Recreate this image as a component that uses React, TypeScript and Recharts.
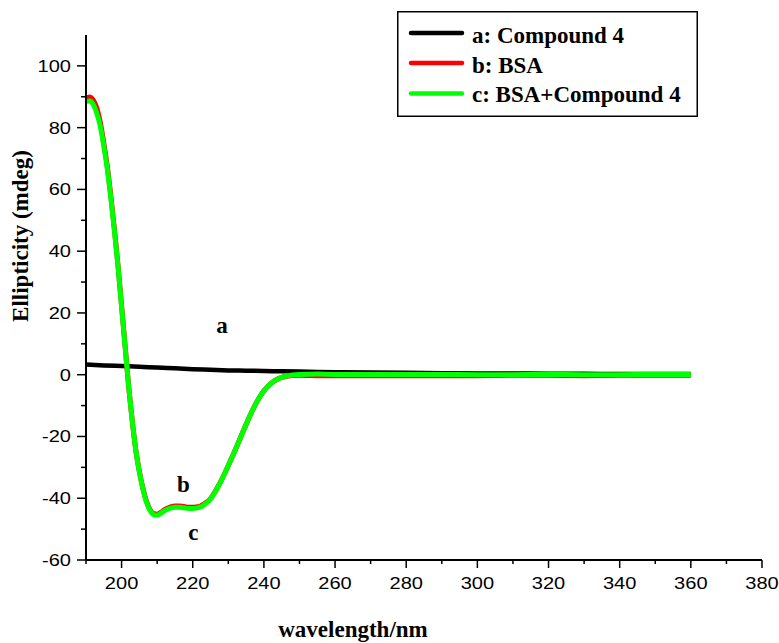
import React from 'react';
import { LineChart, Line, XAxis, YAxis, Legend, ReferenceDot, Label } from 'recharts';

// Wavelength grid (nm) shared by the two BSA spectra
const wavelengthBSA = [
  190, 191, 192, 193, 194, 195, 196, 197, 198, 199,
  200, 201, 202, 203, 204, 205, 206, 207, 208, 209,
  210, 211, 212, 213, 214, 215, 216, 217, 218, 219,
  220, 221, 222, 223, 224, 225, 226, 227, 228, 229,
  230, 232, 234, 236, 238, 240, 242, 244, 246, 248,
  250, 255, 260, 270, 280, 290, 300, 310, 320, 330,
  340, 350, 360,
];

// b: BSA (mdeg)
const bsa = [
  89.3, 89.9, 89.0, 86.5, 81.8, 75.0, 67.3, 57.7, 47.0, 35.4,
  22.3, 9.2, -3.9, -14.9, -24.4, -31.3, -36.8, -41.0, -43.7, -45.0,
  -45.2, -44.6, -43.8, -43.2, -42.7, -42.5, -42.5, -42.6, -42.8, -42.9,
  -42.9, -42.8, -42.6, -42.0, -41.2, -40.1, -38.4, -36.4, -34.3, -31.9,
  -29.4, -24.2, -18.8, -13.5, -8.8, -5.2, -2.8, -1.3, -0.6, -0.3,
  -0.2, -0.3, -0.3, -0.3, -0.3, -0.3, -0.3, -0.2, -0.2, -0.3,
  -0.2, -0.2, -0.2,
];

// c: BSA + Compound 4 (mdeg)
const bsaCompound = [
  88.5, 88.6, 87.6, 84.8, 80.5, 74.0, 66.5, 57.0, 46.5, 35.0,
  22.0, 9.0, -4.0, -15.0, -24.5, -31.5, -37.0, -41.3, -44.0, -45.3,
  -45.5, -44.9, -44.1, -43.5, -43.1, -42.9, -42.9, -43.0, -43.2, -43.3,
  -43.3, -43.2, -42.9, -42.3, -41.4, -40.2, -38.5, -36.5, -34.3, -31.9,
  -29.4, -24.2, -18.8, -13.5, -8.8, -5.2, -2.8, -1.3, -0.5, -0.1,
  0.1, 0.2, 0.1, 0.1, 0.1, 0.1, 0.0, 0.0, 0.1, 0.0,
  0.0, 0.1, 0.1,
];

// a: Compound 4 alone
const wavelengthCompound = [
  190, 195, 200, 205, 210, 215, 220, 225, 230, 235,
  240, 245, 250, 260, 270, 280, 290, 300, 310, 320,
  330, 340, 350, 360,
];
const compound = [
  3.3, 3.0, 2.8, 2.6, 2.3, 2.1, 1.8, 1.6, 1.4, 1.3,
  1.2, 1.1, 1.0, 0.8, 0.7, 0.6, 0.5, 0.4, 0.4, 0.3,
  0.3, 0.2, 0.2, 0.2,
];

const xTicks = [190, 200, 210, 220, 230, 240, 250, 260, 270, 280, 290, 300, 310, 320, 330, 340, 350, 360, 370, 380];
const yTicks = [-60, -50, -40, -30, -20, -10, 0, 10, 20, 30, 40, 50, 60, 70, 80, 90, 100];

const seriesNames = { a: 'a: Compound 4', b: 'b: BSA', c: 'c: BSA+Compound 4' };
const seriesColors = { a: '#000000', b: '#ff0000', c: '#00ff00' };

const bsaRows = wavelengthBSA.map((w, i) => ({ w, b: bsa[i], c: bsaCompound[i] }));
const compoundRows = wavelengthCompound.map((w, i) => ({ w, a: compound[i] }));

const SANS = '"Liberation Sans", Arial, sans-serif';
const SERIF = '"Liberation Serif", "Times New Roman", serif';

const XTick = (props: any) => {
  const { x, y, payload } = props;
  const major = payload.value % 20 === 0;
  return (
    <g>
      <line x1={x} x2={x} y1={y} y2={y + (major ? 8 : 4)} stroke="#000" strokeWidth={1.5} />
      {major && (
        <text
          transform={`translate(${x},${y + 29}) scale(1.18,1)`}
          textAnchor="middle"
          fontFamily={SANS}
          fontSize={17}
          fill="#000"
        >
          {payload.value}
        </text>
      )}
    </g>
  );
};

const YTick = (props: any) => {
  const { x, y, payload } = props;
  const major = payload.value % 20 === 0;
  return (
    <g>
      <line x1={x - (major ? 9 : 5)} x2={x} y1={y} y2={y} stroke="#000" strokeWidth={1.5} />
      {major && (
        <text
          transform={`translate(${x - 15},${y + 6}) scale(1.18,1)`}
          textAnchor="end"
          fontFamily={SANS}
          fontSize={17}
          fill="#000"
        >
          {payload.value}
        </text>
      )}
    </g>
  );
};

const LegendBox = () => {
  const rows: Array<'a' | 'b' | 'c'> = ['a', 'b', 'c'];
  const lineY = [22, 52, 82.5];
  const textY = [32, 62, 91];
  return (
    <svg width={301} height={106} style={{ display: 'block' }}>
      <rect x={0.75} y={0.75} width={299.5} height={104.5} fill="#fff" stroke="#000" strokeWidth={1.5} />
      {rows.map((k, i) => (
        <g key={k}>
          <line x1={14} x2={65} y1={lineY[i]} y2={lineY[i]} stroke={seriesColors[k]} strokeWidth={4.5} strokeLinecap="round" />
          <text x={75} y={textY[i]} fontFamily={SERIF} fontWeight="bold" fontSize={23} fill="#000">
            {seriesNames[k]}
          </text>
        </g>
      ))}
    </svg>
  );
};

const curveLabel = (text: string) => (p: any) => (
  <text x={p.cx} y={p.cy} textAnchor="middle" fontFamily={SERIF} fontWeight="bold" fontSize={23} fill="#000">
    {text}
  </text>
);

export default function App() {
  return (
    <div style={{ position: 'absolute', left: 0, top: 0, background: '#fff' }}>
      <LineChart width={779} height={643} margin={{ top: 35, right: 17, left: 0, bottom: 0 }}>
        <XAxis
          dataKey="w"
          type="number"
          domain={[190, 380]}
          ticks={xTicks}
          interval={0}
          height={83}
          tickSize={0}
          tickMargin={0}
          tickLine={false}
          axisLine={{ stroke: '#000', strokeWidth: 2 }}
          tick={<XTick />}
        >
          <Label
            content={(p: any) => (
              <text
                x={p.viewBox.x + 267}
                y={p.viewBox.y + 77}
                textAnchor="middle"
                fontFamily={SERIF}
                fontWeight="bold"
                fontSize={23}
                fill="#000"
              >
                wavelength/nm
              </text>
            )}
          />
        </XAxis>
        <YAxis
          type="number"
          domain={[-60, 110]}
          ticks={yTicks}
          interval={0}
          width={86}
          tickSize={0}
          tickMargin={0}
          tickLine={false}
          axisLine={{ stroke: '#000', strokeWidth: 2 }}
          tick={<YTick />}
        >
          <Label
            content={(p: any) => (
              <text
                transform={`translate(28,${p.viewBox.y + 201}) rotate(-90)`}
                textAnchor="middle"
                fontFamily={SERIF}
                fontWeight="bold"
                fontSize={23}
                fill="#000"
              >
                Ellipticity (mdeg)
              </text>
            )}
          />
        </YAxis>
        <Legend
          layout="vertical"
          align="center"
          verticalAlign="middle"
          content={() => <LegendBox />}
          wrapperStyle={{ position: 'absolute', left: 397, top: 11, width: 301, height: 106 }}
        />
        <Line
          data={compoundRows}
          dataKey="a"
          name={seriesNames.a}
          type="monotone"
          stroke={seriesColors.a}
          strokeWidth={4.5}
          dot={false}
          isAnimationActive={false}
        />
        <Line
          data={bsaRows}
          dataKey="b"
          name={seriesNames.b}
          type="monotone"
          stroke={seriesColors.b}
          strokeWidth={5}
          dot={false}
          isAnimationActive={false}
        />
        <Line
          data={bsaRows}
          dataKey="c"
          name={seriesNames.c}
          type="monotone"
          stroke={seriesColors.c}
          strokeWidth={5}
          dot={false}
          isAnimationActive={false}
        />
        <ReferenceDot x={228.2} y={13.5} r={0} shape={curveLabel('a')} />
        <ReferenceDot x={217.4} y={-38} r={0} shape={curveLabel('b')} />
        <ReferenceDot x={220.2} y={-53.5} r={0} shape={curveLabel('c')} />
      </LineChart>
    </div>
  );
}
